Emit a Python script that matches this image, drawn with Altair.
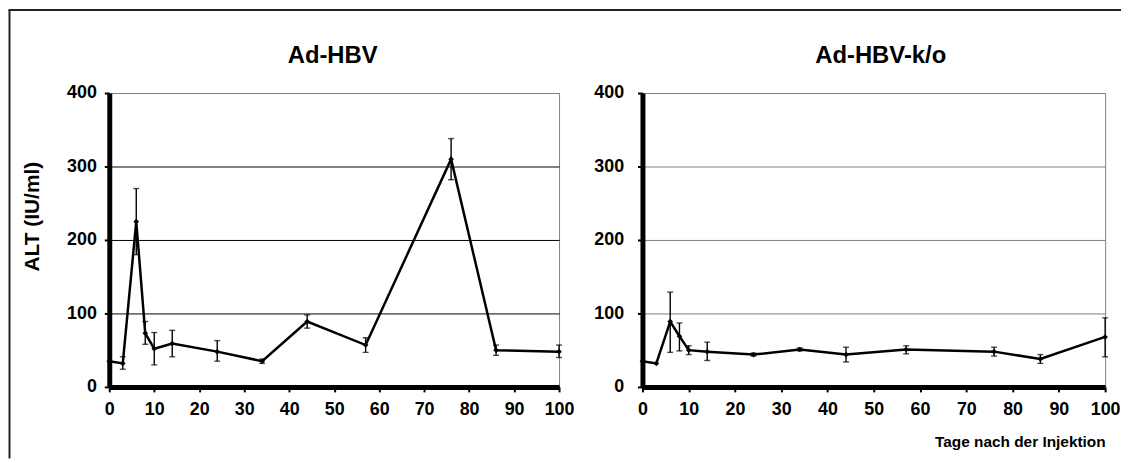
import altair as alt
import pandas as pd

# ---- data ----
days_a = [0, 3, 6, 8, 10, 14, 24, 34, 44, 57, 76, 86, 100]
alt_a = [35, 32, 225, 73, 52, 59, 48, 35, 89, 57, 310, 50, 48]
hi_a = [None, 41, 270, 89, 74, 77, 63, 38, 98, 67, 338, 57, 57]
lo_a = [None, 24, 180, 58, 30, 41, 35, 32, 80, 47, 282, 43, 40]

days_b = [0, 3, 6, 8, 10, 14, 24, 34, 44, 57, 76, 86, 100]
alt_b = [35, 32, 89, 69, 50, 48, 44, 51, 44, 51, 48, 38, 68]
hi_b = [None, None, 129, 87, 56, 61, 46, 53, 54, 56, 54, 44, 94]
lo_b = [None, None, 47, 49, 44, 36, 42, 49, 34, 45, 42, 32, 41]

y_ticks = [0, 100, 200, 300, 400]
x_ticks = [0, 10, 20, 30, 40, 50, 60, 70, 80, 90, 100]
titles = ["Ad-HBV", "Ad-HBV-k/o"]
y_title = "ALT (IU/ml)"
x_title = "Tage nach der Injektion"

FONT = "Liberation Sans"


def panel(days, vals, hi, lo, grid_main, show_ytitle, show_xtitle, label_pad, extent):
    df = pd.DataFrame({"day": days, "alt": vals, "hi": hi, "lo": lo})
    err = df.dropna(subset=["hi", "lo"])

    xscale = alt.Scale(domain=[0, 100], nice=False)
    yscale = alt.Scale(domain=[0, 400], nice=False)

    yaxis_kw = dict(
        values=y_ticks, labelFont=FONT, labelFontSize=18, labelFontWeight="bold",
        labelColor="#000", labelPadding=label_pad, domainColor="#000", domainWidth=5,
        tickColor="#000", tickSize=5, tickWidth=2,
        gridColor={"condition": {"test": "datum.value === 400", "value": "#808080"}, "value": grid_main},
        gridWidth=1, minExtent=extent, maxExtent=extent,
    )
    if show_ytitle:
        yaxis_kw.update(title=y_title, titleFont=FONT, titleFontSize=21, titleFontWeight="bold",
                        titleColor="#000", titlePadding=24, titleY=124)
    else:
        yaxis_kw.update(title=None)

    xaxis_kw = dict(
        values=x_ticks, labelFont=FONT, labelFontSize=18, labelFontWeight="bold",
        labelColor="#000", labelPadding=9, domainColor="#000", domainWidth=5,
        tickColor="#000", tickSize=5, tickWidth=2, grid=False, labelFlush=False,
    )
    if show_xtitle:
        xaxis_kw.update(title=x_title, titleFont=FONT, titleFontSize=15.5, titleFontWeight="bold",
                        titleColor="#000", titleAnchor="end", titlePadding=16)
    else:
        xaxis_kw.update(title=None)

    x = alt.X("day:Q", scale=xscale, axis=alt.Axis(**xaxis_kw))
    y = alt.Y("alt:Q", scale=yscale, axis=alt.Axis(**yaxis_kw))

    base = alt.Chart(df)
    line = base.mark_line(color="#000", strokeWidth=2.5).encode(x=x, y=y)
    pts = base.mark_point(shape="diamond", filled=True, size=32, color="#000", opacity=1).encode(
        x="day:Q", y="alt:Q")
    ebase = alt.Chart(err)
    rule = ebase.mark_rule(color="#000", strokeWidth=1.4).encode(x="day:Q", y="lo:Q", y2="hi:Q")
    cap_hi = ebase.mark_tick(orient="horizontal", size=6, thickness=1.4, color="#000").encode(
        x="day:Q", y="hi:Q")
    cap_lo = ebase.mark_tick(orient="horizontal", size=6, thickness=1.4, color="#000").encode(
        x="day:Q", y="lo:Q")

    return [line, rule, cap_hi, cap_lo, pts]


one = pd.DataFrame({"k": [0]})


def panel_title(text, cx):
    return alt.Chart(one).mark_text(
        text=text, font=FONT, fontSize=24, fontWeight="bold", color="#000",
        align="center", baseline="middle",
    ).encode(x=alt.value(cx), y=alt.value(-37))


frame_left = alt.Chart(one).mark_rule(color="#222", strokeWidth=2).encode(
    x=alt.value(-100.5), y=alt.value(-83.5), y2=alt.value(368))
frame_top = alt.Chart(one).mark_rule(color="#222", strokeWidth=2).encode(
    x=alt.value(-101.5), x2=alt.value(1019), y=alt.value(-83.5))

left = alt.layer(
    *panel(days_a, alt_a, hi_a, lo_a, "#000000", True, False, 8, 43),
    panel_title(titles[0], 225),
    frame_left, frame_top,
).properties(width=453, height=296)

right = alt.layer(
    *panel(days_b, alt_b, hi_b, lo_b, "#808080", False, True, 14, 53),
    panel_title(titles[1], 240),
).properties(width=466, height=296)

chart = alt.hconcat(left, right, spacing=84, bounds="flush").properties(
    padding={"left": -1, "top": -1, "right": 0, "bottom": 0}, background="white"
).configure_view(stroke="#808080", strokeWidth=1)

chart.save("out.html", embed_options={"renderer": "svg", "actions": False})
